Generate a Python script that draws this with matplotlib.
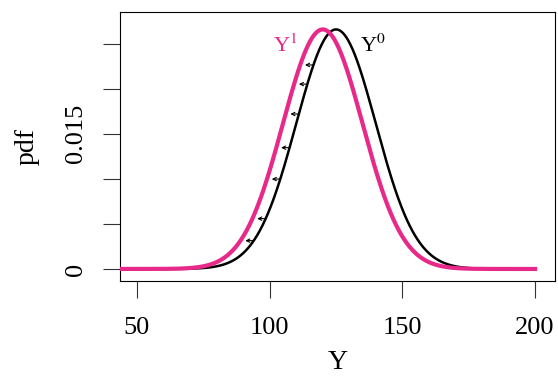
import numpy as np
import matplotlib.pyplot as plt

# distributions (normal): Y0 and Y1 shifted left
mu_y0, sd_y0 = 125, 15
mu_y1, sd_y1 = 120, 15
x_range = (40, 200)
# positions on Y0 curve where shift arrows start, arrow length in Y units
arrow_x = [94, 98.5, 104, 107.5, 111, 114.2, 116.5]
arrow_len = 3.2

y_ticks = [0, 0.005, 0.01, 0.015, 0.02, 0.025]
y_labels = ["0", "", "", "0.015", "", ""]
x_ticks = [50, 100, 150, 200]

pink = "#E7298A"

plt.rcParams["font.family"] = ["Liberation Serif", "DejaVu Serif"]
plt.rcParams["mathtext.fontset"] = "stix"


def dnorm(x, mu, sd):
    return np.exp(-0.5 * ((x - mu) / sd) ** 2) / (sd * np.sqrt(2 * np.pi))


fig = plt.figure(figsize=(5.58, 3.78), dpi=100)
ax = fig.add_axes([0.215, 0.257, 0.7796, 0.711])

x = np.linspace(x_range[0], x_range[1], 800)
ax.plot(x, dnorm(x, mu_y0, sd_y0), color="black", lw=1.8, zorder=2)
ax.plot(x, dnorm(x, mu_y1, sd_y1), color=pink, lw=3.0, zorder=3)

# arrows showing the shift from Y0 to Y1
for xa in arrow_x:
    ya = dnorm(xa, mu_y0, sd_y0)
    ax.annotate("", xy=(xa - arrow_len, ya), xytext=(xa, ya),
                arrowprops=dict(arrowstyle="->", lw=0.8, color="black",
                                shrinkA=0, shrinkB=0, mutation_scale=6),
                zorder=4)

ax.text(106, 0.0248, r"Y$^1$", color=pink, fontsize=16, ha="center", va="center")
ax.text(139, 0.0248, r"Y$^0$", color="black", fontsize=16, ha="center", va="center")

ax.set_xlim(43.6, 207.5)
ax.set_ylim(-0.00132, 0.02852)
ax.set_xticks(x_ticks)
ax.set_xticklabels([str(t) for t in x_ticks])
ax.set_yticks(y_ticks)
ax.set_yticklabels(y_labels, rotation=90, va="center")
ax.tick_params(axis="both", direction="out", length=12, width=0.8,
               labelsize=19, color="#333333")
ax.tick_params(axis="x", pad=14)
ax.tick_params(axis="y", pad=12)
for s in ax.spines.values():
    s.set_linewidth(0.8)

ax.set_xlabel("Y", fontsize=20, labelpad=8)
ax.set_ylabel("pdf", fontsize=20, labelpad=18)

fig.savefig("out.png", dpi=100)
